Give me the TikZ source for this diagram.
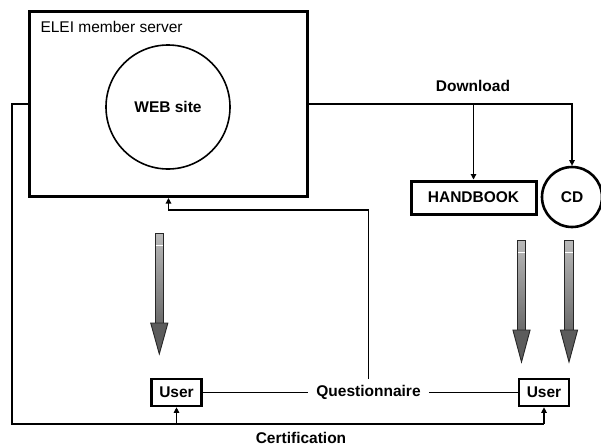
\documentclass[tikz,border=0pt]{standalone}
\usepackage{fontspec}
\setmainfont{Liberation Sans}
\usetikzlibrary{arrows.meta,calc}

\tikzset{
  base/.style={font=\fontsize{15.5}{18}\selectfont},
  lbl/.style={base,font=\fontsize{15.5}{18}\selectfont\bfseries},
  thickbox/.style={draw=black,line width=3pt,inner sep=0pt},
  userbox/.style={draw=black,line width=2.6pt,fill=white,minimum width=50pt,minimum height=27pt,inner sep=0pt,lbl},
  link/.style={line width=1.1pt,draw=black},
  tip/.style={link,-{Triangle[length=5.5pt,width=5.5pt]}},
  shaftfill/.style={top color=black!27,bottom color=black!58,draw=black!85,line width=0.9pt},
  headfill/.style={fill=black!64,draw=black!85,line width=0.9pt,line join=miter}
}

% shaded block arrow: #1 centre x, #2 top, #3 start of head, #4 tip
\newcommand{\fatarrow}[4]{%
  \path[shaftfill] (#1-4.3,#2) rectangle (#1+4.3,#3);
  \draw[white,line width=1pt] (#1-3.6,#2+12) -- (#1+3.6,#2+12);
  \path[headfill] (#1-8.6,#3) -- (#1+8.6,#3) -- (#1,#4) -- cycle;
}

\begin{document}
\begin{tikzpicture}[x=1pt,y=-1pt]
\useasboundingbox (0,0) rectangle (601,447);

% member server with its web site
\node[thickbox,minimum width=278pt,minimum height=185pt] (server) at (168.5,104) {};
\node[base,anchor=base west] (srvlbl) at (37,32) {ELEI member server};
\node[draw=black,line width=1.6pt,circle,minimum size=124pt,inner sep=0pt,lbl] (web) at (168,107) {WEB site};

% downloadable material
\node[thickbox,minimum width=125pt,minimum height=33pt,lbl] (handbook) at (473.5,197.5) {HANDBOOK};
\node[draw=black,line width=2.6pt,circle,minimum size=60pt,inner sep=0pt,lbl] (cd) at (572,197) {CD};
\node[lbl] (dl) at (473,86) {Download};

% users
\node[userbox] (userL) at (176.5,392.5) {User};
\node[userbox] (userR) at (544,392.5) {User};
\node[lbl,inner xsep=8pt,inner ysep=6pt] (quest) at (368.5,392.5) {Questionnaire};
\node[lbl,inner sep=0pt] (cert) at (301,437.5) {Certification};

% download paths
\draw[tip] (server.east) -| (cd.north);
\draw[tip] (handbook.north |- server.east) -- (handbook.north);

% questionnaire back to the site
\coordinate (qturn) at (168.5,210);
\draw[link] (userL.east) -- (quest.west);
\draw[link] (quest.east) -- (userR.west);
\draw[tip] (quest.north) |- (qturn) -- (server.south);

% certification to both users
\coordinate (corner) at (12,424);
\draw[link] (server.west) -| (corner) -- (userR.south |- corner);
\draw[tip] (userL.south |- corner) -- (userL.south);
\draw[tip] (userR.south |- corner) -- (userR.south);

% block arrows towards the users
\fatarrow{159.3}{233}{323}{354}
\fatarrow{521.5}{240}{330}{362}
\fatarrow{569}{240}{330}{362}
\end{tikzpicture}
\end{document}
